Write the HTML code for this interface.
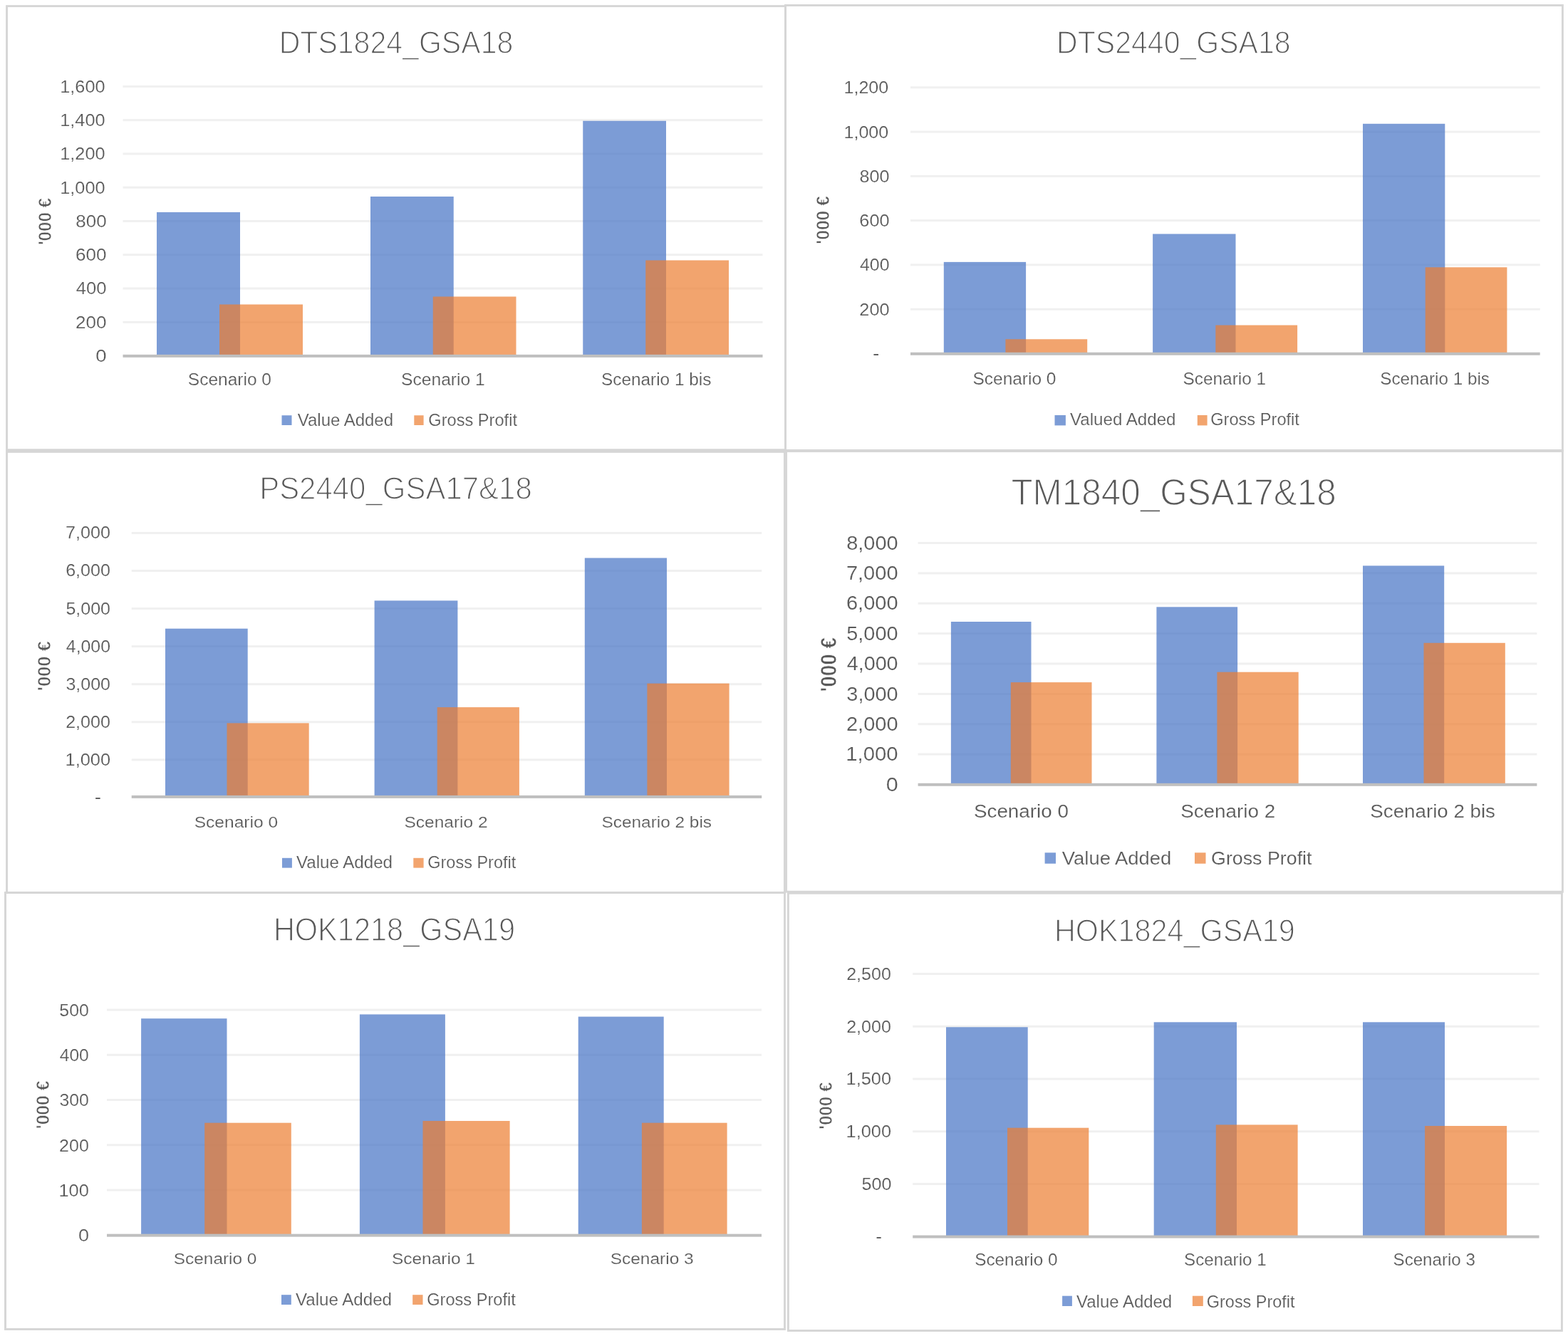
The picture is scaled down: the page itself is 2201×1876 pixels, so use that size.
<!DOCTYPE html>
<html lang="en"><head><meta charset="utf-8"><title>Value Added and Gross Profit by scenario</title>
<style>html,body{margin:0;padding:0;background:#fff;}body{width:2201px;height:1876px;overflow:hidden;}svg{display:block;font-family:"Liberation Sans",sans-serif;}text{white-space:pre;}</style>
</head><body>
<svg width="2201" height="1876" viewBox="0 0 2201 1876">
<rect width="2201" height="1876" fill="#fff"/>
<g>
<rect x="9.55" y="8.6" width="1092.95" height="623.1" fill="none" stroke="#d6d6d6" stroke-width="2.9"/>
<rect x="1102.5" y="7.5" width="1090.9" height="624.9" fill="none" stroke="#d6d6d6" stroke-width="2.9"/>
<rect x="9.55" y="634.4" width="1091.85" height="619" fill="none" stroke="#d6d6d6" stroke-width="2.9"/>
<rect x="1103.6" y="633.6" width="1089.8" height="618.6" fill="none" stroke="#d6d6d6" stroke-width="2.9"/>
<rect x="7.5" y="1253.4" width="1094" height="613.1" fill="none" stroke="#d6d6d6" stroke-width="2.9"/>
<rect x="1106.4" y="1254.2" width="1086" height="614.3" fill="none" stroke="#d6d6d6" stroke-width="2.9"/>
</g>
<g>
<text transform="translate(391.66,74.7) scale(0.9289,1)" font-size="44.22" fill="#595959" stroke="#fff" stroke-width="1.4" stroke-linejoin="round">DTS1824_GSA18</text>
<rect x="172.5" y="450.83" width="898" height="3" fill="#f0f0f0"/>
<rect x="172.5" y="403.55" width="898" height="3" fill="#f0f0f0"/>
<rect x="172.5" y="356.27" width="898" height="3" fill="#f0f0f0"/>
<rect x="172.5" y="309" width="898" height="3" fill="#f0f0f0"/>
<rect x="172.5" y="261.73" width="898" height="3" fill="#f0f0f0"/>
<rect x="172.5" y="214.45" width="898" height="3" fill="#f0f0f0"/>
<rect x="172.5" y="167.17" width="898" height="3" fill="#f0f0f0"/>
<rect x="172.5" y="119.9" width="898" height="3" fill="#f0f0f0"/>
<text transform="translate(134.31,508.04) scale(1.1405,1)" font-size="24.2" fill="#595959" stroke="#fff" stroke-width="0.18" stroke-linejoin="round">0</text>
<text transform="translate(106.11,460.77) scale(1.0770,1)" font-size="24.2" fill="#595959" stroke="#fff" stroke-width="0.18" stroke-linejoin="round">200</text>
<text transform="translate(106.83,413.49) scale(1.0585,1)" font-size="24.2" fill="#595959" stroke="#fff" stroke-width="0.18" stroke-linejoin="round">400</text>
<text transform="translate(106.11,366.21) scale(1.0770,1)" font-size="24.2" fill="#595959" stroke="#fff" stroke-width="0.18" stroke-linejoin="round">600</text>
<text transform="translate(106.31,318.94) scale(1.0719,1)" font-size="24.2" fill="#595959" stroke="#fff" stroke-width="0.18" stroke-linejoin="round">800</text>
<text transform="translate(84.26,271.67) scale(1.0448,1)" font-size="24.2" fill="#595959" stroke="#fff" stroke-width="0.18" stroke-linejoin="round">1,000</text>
<text transform="translate(84.26,224.39) scale(1.0448,1)" font-size="24.2" fill="#595959" stroke="#fff" stroke-width="0.18" stroke-linejoin="round">1,200</text>
<text transform="translate(84.26,177.11) scale(1.0448,1)" font-size="24.2" fill="#595959" stroke="#fff" stroke-width="0.18" stroke-linejoin="round">1,400</text>
<text transform="translate(84.26,129.84) scale(1.0448,1)" font-size="24.2" fill="#595959" stroke="#fff" stroke-width="0.18" stroke-linejoin="round">1,600</text>
<rect x="220" y="298" width="117" height="201.9" fill="#4472C4" fill-opacity="0.7"/>
<rect x="308" y="427.5" width="117" height="72.4" fill="#ED7D31" fill-opacity="0.7"/>
<rect x="520" y="276" width="116.75" height="223.9" fill="#4472C4" fill-opacity="0.7"/>
<rect x="607.75" y="416.5" width="116.75" height="83.4" fill="#ED7D31" fill-opacity="0.7"/>
<rect x="818.25" y="169.75" width="116.75" height="330.15" fill="#4472C4" fill-opacity="0.7"/>
<rect x="906.25" y="365.5" width="116.75" height="134.4" fill="#ED7D31" fill-opacity="0.7"/>
<rect x="172.5" y="497.9" width="898" height="4" fill="#bfbfbf"/>
<text transform="translate(263.81,541.14) scale(1.0525,1)" font-size="23.3" fill="#595959" stroke="#fff" stroke-width="0.18" stroke-linejoin="round">Scenario 0</text>
<text transform="translate(563.1,541.14) scale(1.0566,1)" font-size="23.3" fill="#595959" stroke="#fff" stroke-width="0.18" stroke-linejoin="round">Scenario 1</text>
<text transform="translate(844.01,541.14) scale(1.0460,1)" font-size="23.3" fill="#595959" stroke="#fff" stroke-width="0.18" stroke-linejoin="round">Scenario 1 bis</text>
<rect x="395.5" y="583.25" width="14" height="13.75" fill="#4472C4" fill-opacity="0.7"/>
<text transform="translate(417.79,598.39) scale(0.9949,1)" font-size="24.12" fill="#595959" stroke="#fff" stroke-width="0.18" stroke-linejoin="round">Value Added</text>
<rect x="581.3" y="583.25" width="13.3" height="13.75" fill="#ED7D31" fill-opacity="0.7"/>
<text transform="translate(601.33,598.39) scale(0.9793,1)" font-size="24.12" fill="#595959" stroke="#fff" stroke-width="0.18" stroke-linejoin="round">Gross Profit</text>
<text transform="translate(71.6,344.12) rotate(-90) scale(0.9251,1)" font-size="26.09" fill="#595959" font-weight="bold" stroke="#fff" stroke-width="0.7" stroke-linejoin="round">'000 €</text>
</g>
<g>
<text transform="translate(1483.11,75) scale(0.9283,1)" font-size="44.22" fill="#595959" stroke="#fff" stroke-width="1.4" stroke-linejoin="round">DTS2440_GSA18</text>
<rect x="1278" y="432.72" width="883.7" height="3" fill="#f0f0f0"/>
<rect x="1278" y="370.43" width="883.7" height="3" fill="#f0f0f0"/>
<rect x="1278" y="308.15" width="883.7" height="3" fill="#f0f0f0"/>
<rect x="1278" y="245.87" width="883.7" height="3" fill="#f0f0f0"/>
<rect x="1278" y="183.58" width="883.7" height="3" fill="#f0f0f0"/>
<rect x="1278" y="121.3" width="883.7" height="3" fill="#f0f0f0"/>
<text transform="translate(1225.29,503.87) scale(1.1195,1)" font-size="23.94" fill="#595959">-</text>
<text transform="translate(1206.34,442.66) scale(1.0456,1)" font-size="24.2" fill="#595959" stroke="#fff" stroke-width="0.18" stroke-linejoin="round">200</text>
<text transform="translate(1207.05,380.37) scale(1.0277,1)" font-size="24.2" fill="#595959" stroke="#fff" stroke-width="0.18" stroke-linejoin="round">400</text>
<text transform="translate(1206.34,318.09) scale(1.0456,1)" font-size="24.2" fill="#595959" stroke="#fff" stroke-width="0.18" stroke-linejoin="round">600</text>
<text transform="translate(1206.54,255.81) scale(1.0406,1)" font-size="24.2" fill="#595959" stroke="#fff" stroke-width="0.18" stroke-linejoin="round">800</text>
<text transform="translate(1184.53,193.52) scale(1.0361,1)" font-size="24.2" fill="#595959" stroke="#fff" stroke-width="0.18" stroke-linejoin="round">1,000</text>
<text transform="translate(1184.53,131.24) scale(1.0361,1)" font-size="24.2" fill="#595959" stroke="#fff" stroke-width="0.18" stroke-linejoin="round">1,200</text>
<rect x="1324.8" y="367.9" width="115.3" height="128.9" fill="#4472C4" fill-opacity="0.7"/>
<rect x="1411.4" y="476.3" width="114.8" height="20.5" fill="#ED7D31" fill-opacity="0.7"/>
<rect x="1618.1" y="328.5" width="116.4" height="168.3" fill="#4472C4" fill-opacity="0.7"/>
<rect x="1706.3" y="456.6" width="114.8" height="40.2" fill="#ED7D31" fill-opacity="0.7"/>
<rect x="1913" y="173.8" width="115.3" height="323" fill="#4472C4" fill-opacity="0.7"/>
<rect x="2000.7" y="375.3" width="114.7" height="121.5" fill="#ED7D31" fill-opacity="0.7"/>
<rect x="1278" y="494.8" width="883.7" height="4" fill="#bfbfbf"/>
<text transform="translate(1365.51,539.89) scale(1.0507,1)" font-size="23.3" fill="#595959" stroke="#fff" stroke-width="0.18" stroke-linejoin="round">Scenario 0</text>
<text transform="translate(1660.51,539.89) scale(1.0474,1)" font-size="23.3" fill="#595959" stroke="#fff" stroke-width="0.18" stroke-linejoin="round">Scenario 1</text>
<text transform="translate(1937.32,539.89) scale(1.0412,1)" font-size="23.3" fill="#595959" stroke="#fff" stroke-width="0.18" stroke-linejoin="round">Scenario 1 bis</text>
<rect x="1480.5" y="583" width="15.4" height="14.4" fill="#4472C4" fill-opacity="0.7"/>
<text transform="translate(1501.99,597.39) scale(1.0256,1)" font-size="23.53" fill="#595959" stroke="#fff" stroke-width="0.18" stroke-linejoin="round">Valued Added</text>
<rect x="1680.8" y="583" width="13.8" height="14.4" fill="#ED7D31" fill-opacity="0.7"/>
<text transform="translate(1699.13,597.39) scale(1.0051,1)" font-size="23.53" fill="#595959" stroke="#fff" stroke-width="0.18" stroke-linejoin="round">Gross Profit</text>
<text transform="translate(1163.85,342.64) rotate(-90) scale(0.9430,1)" font-size="26.09" fill="#595959" font-weight="bold" stroke="#fff" stroke-width="0.7" stroke-linejoin="round">'000 €</text>
</g>
<g>
<text transform="translate(364.14,701.4) scale(0.9428,1)" font-size="44.51" fill="#595959" stroke="#fff" stroke-width="1.4" stroke-linejoin="round">PS2440_GSA17&amp;18</text>
<rect x="184.7" y="1065.41" width="884.5" height="3" fill="#f0f0f0"/>
<rect x="184.7" y="1012.33" width="884.5" height="3" fill="#f0f0f0"/>
<rect x="184.7" y="959.24" width="884.5" height="3" fill="#f0f0f0"/>
<rect x="184.7" y="906.16" width="884.5" height="3" fill="#f0f0f0"/>
<rect x="184.7" y="853.07" width="884.5" height="3" fill="#f0f0f0"/>
<rect x="184.7" y="799.99" width="884.5" height="3" fill="#f0f0f0"/>
<rect x="184.7" y="746.9" width="884.5" height="3" fill="#f0f0f0"/>
<text transform="translate(133.11,1126.87) scale(1.1023,1)" font-size="23.94" fill="#595959">-</text>
<text transform="translate(91.51,1074.85) scale(1.0491,1)" font-size="24.2" fill="#595959" stroke="#fff" stroke-width="0.18" stroke-linejoin="round">1,000</text>
<text transform="translate(92.15,1021.77) scale(1.0382,1)" font-size="24.2" fill="#595959" stroke="#fff" stroke-width="0.18" stroke-linejoin="round">2,000</text>
<text transform="translate(92.47,968.68) scale(1.0329,1)" font-size="24.2" fill="#595959" stroke="#fff" stroke-width="0.18" stroke-linejoin="round">3,000</text>
<text transform="translate(92.85,915.6) scale(1.0266,1)" font-size="24.2" fill="#595959" stroke="#fff" stroke-width="0.18" stroke-linejoin="round">4,000</text>
<text transform="translate(92.41,862.51) scale(1.0340,1)" font-size="24.2" fill="#595959" stroke="#fff" stroke-width="0.18" stroke-linejoin="round">5,000</text>
<text transform="translate(92.15,809.43) scale(1.0382,1)" font-size="24.2" fill="#595959" stroke="#fff" stroke-width="0.18" stroke-linejoin="round">6,000</text>
<text transform="translate(92.09,756.34) scale(1.0393,1)" font-size="24.2" fill="#595959" stroke="#fff" stroke-width="0.18" stroke-linejoin="round">7,000</text>
<rect x="232" y="882.7" width="115.7" height="236.2" fill="#4472C4" fill-opacity="0.7"/>
<rect x="318.5" y="1015.4" width="115.2" height="103.5" fill="#ED7D31" fill-opacity="0.7"/>
<rect x="525.6" y="843.4" width="116.8" height="275.5" fill="#4472C4" fill-opacity="0.7"/>
<rect x="613.7" y="993.1" width="115.2" height="125.8" fill="#ED7D31" fill-opacity="0.7"/>
<rect x="820.8" y="783.5" width="115.2" height="335.4" fill="#4472C4" fill-opacity="0.7"/>
<rect x="908.4" y="959.7" width="115.2" height="159.2" fill="#ED7D31" fill-opacity="0.7"/>
<rect x="184.7" y="1116.9" width="884.5" height="4" fill="#bfbfbf"/>
<text transform="translate(272.7,1162.19) scale(1.0769,1)" font-size="22.81" fill="#595959" stroke="#fff" stroke-width="0.18" stroke-linejoin="round">Scenario 0</text>
<text transform="translate(567.41,1162.19) scale(1.0751,1)" font-size="22.81" fill="#595959" stroke="#fff" stroke-width="0.18" stroke-linejoin="round">Scenario 2</text>
<text transform="translate(844.51,1162.19) scale(1.0691,1)" font-size="22.81" fill="#595959" stroke="#fff" stroke-width="0.18" stroke-linejoin="round">Scenario 2 bis</text>
<rect x="396" y="1204.8" width="13.9" height="13.8" fill="#4472C4" fill-opacity="0.7"/>
<text transform="translate(415.99,1218.69) scale(1.0131,1)" font-size="23.83" fill="#595959" stroke="#fff" stroke-width="0.18" stroke-linejoin="round">Value Added</text>
<rect x="580.3" y="1204.8" width="14.3" height="13.8" fill="#ED7D31" fill-opacity="0.7"/>
<text transform="translate(600.23,1218.69) scale(0.9872,1)" font-size="23.83" fill="#595959" stroke="#fff" stroke-width="0.18" stroke-linejoin="round">Gross Profit</text>
<text transform="translate(70.85,970.19) rotate(-90) scale(0.9789,1)" font-size="26.09" fill="#595959" font-weight="bold" stroke="#fff" stroke-width="0.7" stroke-linejoin="round">'000 €</text>
</g>
<g>
<text transform="translate(1419.39,709.4) scale(0.9501,1)" font-size="52.07" fill="#595959" stroke="#fff" stroke-width="1.4" stroke-linejoin="round">TM1840_GSA17&amp;18</text>
<rect x="1288.6" y="1057.62" width="868.8" height="3" fill="#f0f0f0"/>
<rect x="1288.6" y="1015.25" width="868.8" height="3" fill="#f0f0f0"/>
<rect x="1288.6" y="972.88" width="868.8" height="3" fill="#f0f0f0"/>
<rect x="1288.6" y="930.5" width="868.8" height="3" fill="#f0f0f0"/>
<rect x="1288.6" y="888.12" width="868.8" height="3" fill="#f0f0f0"/>
<rect x="1288.6" y="845.75" width="868.8" height="3" fill="#f0f0f0"/>
<rect x="1288.6" y="803.38" width="868.8" height="3" fill="#f0f0f0"/>
<rect x="1288.6" y="761" width="868.8" height="3" fill="#f0f0f0"/>
<text transform="translate(1243.69,1110.69) scale(1.1104,1)" font-size="27.5" fill="#595959" stroke="#fff" stroke-width="0.18" stroke-linejoin="round">0</text>
<text transform="translate(1187.21,1068.31) scale(1.0663,1)" font-size="27.5" fill="#595959" stroke="#fff" stroke-width="0.18" stroke-linejoin="round">1,000</text>
<text transform="translate(1187.96,1025.94) scale(1.0553,1)" font-size="27.5" fill="#595959" stroke="#fff" stroke-width="0.18" stroke-linejoin="round">2,000</text>
<text transform="translate(1188.33,983.57) scale(1.0499,1)" font-size="27.5" fill="#595959" stroke="#fff" stroke-width="0.18" stroke-linejoin="round">3,000</text>
<text transform="translate(1188.76,941.19) scale(1.0434,1)" font-size="27.5" fill="#595959" stroke="#fff" stroke-width="0.18" stroke-linejoin="round">4,000</text>
<text transform="translate(1188.25,898.82) scale(1.0509,1)" font-size="27.5" fill="#595959" stroke="#fff" stroke-width="0.18" stroke-linejoin="round">5,000</text>
<text transform="translate(1187.96,856.44) scale(1.0553,1)" font-size="27.5" fill="#595959" stroke="#fff" stroke-width="0.18" stroke-linejoin="round">6,000</text>
<text transform="translate(1187.88,814.07) scale(1.0564,1)" font-size="27.5" fill="#595959" stroke="#fff" stroke-width="0.18" stroke-linejoin="round">7,000</text>
<text transform="translate(1188.18,771.69) scale(1.0520,1)" font-size="27.5" fill="#595959" stroke="#fff" stroke-width="0.18" stroke-linejoin="round">8,000</text>
<rect x="1334.9" y="873" width="112.6" height="228.8" fill="#4472C4" fill-opacity="0.7"/>
<rect x="1418.8" y="958.1" width="113.7" height="143.7" fill="#ED7D31" fill-opacity="0.7"/>
<rect x="1623.4" y="852.3" width="113.7" height="249.5" fill="#4472C4" fill-opacity="0.7"/>
<rect x="1708.4" y="943.7" width="114.3" height="158.1" fill="#ED7D31" fill-opacity="0.7"/>
<rect x="1913" y="794.4" width="114.2" height="307.4" fill="#4472C4" fill-opacity="0.7"/>
<rect x="1998.5" y="902.8" width="114.3" height="199" fill="#ED7D31" fill-opacity="0.7"/>
<rect x="1288.6" y="1099.8" width="868.8" height="4" fill="#bfbfbf"/>
<text transform="translate(1366.96,1148.14) scale(1.0494,1)" font-size="26.51" fill="#595959" stroke="#fff" stroke-width="0.18" stroke-linejoin="round">Scenario 0</text>
<text transform="translate(1657.16,1148.14) scale(1.0498,1)" font-size="26.51" fill="#595959" stroke="#fff" stroke-width="0.18" stroke-linejoin="round">Scenario 2</text>
<text transform="translate(1923.36,1148.14) scale(1.0452,1)" font-size="26.51" fill="#595959" stroke="#fff" stroke-width="0.18" stroke-linejoin="round">Scenario 2 bis</text>
<rect x="1466.6" y="1197.3" width="15.4" height="15.4" fill="#4472C4" fill-opacity="0.7"/>
<text transform="translate(1490.87,1214.09) scale(1.0366,1)" font-size="26.44" fill="#595959" stroke="#fff" stroke-width="0.18" stroke-linejoin="round">Value Added</text>
<rect x="1677" y="1197.3" width="15.5" height="15.4" fill="#ED7D31" fill-opacity="0.7"/>
<text transform="translate(1700.07,1214.09) scale(1.0134,1)" font-size="26.44" fill="#595959" stroke="#fff" stroke-width="0.18" stroke-linejoin="round">Gross Profit</text>
<text transform="translate(1173.55,971.42) rotate(-90) scale(0.8981,1)" font-size="31.11" fill="#595959" font-weight="bold" stroke="#fff" stroke-width="0.7" stroke-linejoin="round">'000 €</text>
</g>
<g>
<text transform="translate(383.88,1320.5) scale(0.9001,1)" font-size="46.11" fill="#595959" stroke="#fff" stroke-width="1.4" stroke-linejoin="round">HOK1218_GSA19</text>
<rect x="150" y="1669.62" width="919" height="3" fill="#f0f0f0"/>
<rect x="150" y="1606.34" width="919" height="3" fill="#f0f0f0"/>
<rect x="150" y="1543.06" width="919" height="3" fill="#f0f0f0"/>
<rect x="150" y="1479.78" width="919" height="3" fill="#f0f0f0"/>
<rect x="150" y="1416.5" width="919" height="3" fill="#f0f0f0"/>
<text transform="translate(110.08,1743.14) scale(1.1189,1)" font-size="24.2" fill="#595959" stroke="#fff" stroke-width="0.18" stroke-linejoin="round">0</text>
<text transform="translate(82.4,1679.86) scale(1.0504,1)" font-size="24.2" fill="#595959" stroke="#fff" stroke-width="0.18" stroke-linejoin="round">100</text>
<text transform="translate(83.06,1616.58) scale(1.0338,1)" font-size="24.2" fill="#595959" stroke="#fff" stroke-width="0.18" stroke-linejoin="round">200</text>
<text transform="translate(83.38,1553.3) scale(1.0257,1)" font-size="24.2" fill="#595959" stroke="#fff" stroke-width="0.18" stroke-linejoin="round">300</text>
<text transform="translate(83.76,1490.02) scale(1.0161,1)" font-size="24.2" fill="#595959" stroke="#fff" stroke-width="0.18" stroke-linejoin="round">400</text>
<text transform="translate(83.32,1426.74) scale(1.0273,1)" font-size="24.2" fill="#595959" stroke="#fff" stroke-width="0.18" stroke-linejoin="round">500</text>
<rect x="198.1" y="1430.2" width="120.4" height="304.5" fill="#4472C4" fill-opacity="0.7"/>
<rect x="287.2" y="1576.7" width="121.6" height="158" fill="#ED7D31" fill-opacity="0.7"/>
<rect x="504.9" y="1424.4" width="120" height="310.3" fill="#4472C4" fill-opacity="0.7"/>
<rect x="593.5" y="1574" width="122.1" height="160.7" fill="#ED7D31" fill-opacity="0.7"/>
<rect x="811.7" y="1427.6" width="120" height="307.1" fill="#4472C4" fill-opacity="0.7"/>
<rect x="900.9" y="1576.7" width="119.7" height="158" fill="#ED7D31" fill-opacity="0.7"/>
<rect x="150" y="1732.7" width="919" height="4" fill="#bfbfbf"/>
<text transform="translate(243.81,1775.14) scale(1.0728,1)" font-size="22.74" fill="#595959" stroke="#fff" stroke-width="0.18" stroke-linejoin="round">Scenario 0</text>
<text transform="translate(549.91,1775.14) scale(1.0769,1)" font-size="22.74" fill="#595959" stroke="#fff" stroke-width="0.18" stroke-linejoin="round">Scenario 1</text>
<text transform="translate(856.71,1775.14) scale(1.0767,1)" font-size="22.74" fill="#595959" stroke="#fff" stroke-width="0.18" stroke-linejoin="round">Scenario 3</text>
<rect x="395" y="1818.2" width="13.8" height="13.8" fill="#4472C4" fill-opacity="0.7"/>
<text transform="translate(414.99,1833.09) scale(1.0001,1)" font-size="24.12" fill="#595959" stroke="#fff" stroke-width="0.18" stroke-linejoin="round">Value Added</text>
<rect x="579.2" y="1818.2" width="14.3" height="13.8" fill="#ED7D31" fill-opacity="0.7"/>
<text transform="translate(599.13,1833.09) scale(0.9801,1)" font-size="24.12" fill="#595959" stroke="#fff" stroke-width="0.18" stroke-linejoin="round">Gross Profit</text>
<text transform="translate(69.35,1585.25) rotate(-90) scale(0.9473,1)" font-size="26.09" fill="#595959" font-weight="bold" stroke="#fff" stroke-width="0.7" stroke-linejoin="round">'000 €</text>
</g>
<g>
<text transform="translate(1479.89,1321.8) scale(0.9174,1)" font-size="45.09" fill="#595959" stroke="#fff" stroke-width="1.4" stroke-linejoin="round">HOK1824_GSA19</text>
<rect x="1281.2" y="1661.04" width="879.3" height="3" fill="#f0f0f0"/>
<rect x="1281.2" y="1587.28" width="879.3" height="3" fill="#f0f0f0"/>
<rect x="1281.2" y="1513.52" width="879.3" height="3" fill="#f0f0f0"/>
<rect x="1281.2" y="1439.76" width="879.3" height="3" fill="#f0f0f0"/>
<rect x="1281.2" y="1366" width="879.3" height="3" fill="#f0f0f0"/>
<text transform="translate(1229.59,1743.67) scale(1.0334,1)" font-size="23.94" fill="#595959">-</text>
<text transform="translate(1209.6,1670.98) scale(1.0390,1)" font-size="24.2" fill="#595959" stroke="#fff" stroke-width="0.18" stroke-linejoin="round">500</text>
<text transform="translate(1187.51,1597.22) scale(1.0491,1)" font-size="24.2" fill="#595959" stroke="#fff" stroke-width="0.18" stroke-linejoin="round">1,000</text>
<text transform="translate(1187.51,1523.46) scale(1.0491,1)" font-size="24.2" fill="#595959" stroke="#fff" stroke-width="0.18" stroke-linejoin="round">1,500</text>
<text transform="translate(1188.15,1449.7) scale(1.0382,1)" font-size="24.2" fill="#595959" stroke="#fff" stroke-width="0.18" stroke-linejoin="round">2,000</text>
<text transform="translate(1188.15,1375.94) scale(1.0382,1)" font-size="24.2" fill="#595959" stroke="#fff" stroke-width="0.18" stroke-linejoin="round">2,500</text>
<rect x="1328" y="1442.3" width="114.7" height="294.3" fill="#4472C4" fill-opacity="0.7"/>
<rect x="1414" y="1583.7" width="114.3" height="152.9" fill="#ED7D31" fill-opacity="0.7"/>
<rect x="1619.7" y="1435.3" width="116.3" height="301.3" fill="#4472C4" fill-opacity="0.7"/>
<rect x="1706.8" y="1579.4" width="114.8" height="157.2" fill="#ED7D31" fill-opacity="0.7"/>
<rect x="1913" y="1435.3" width="115" height="301.3" fill="#4472C4" fill-opacity="0.7"/>
<rect x="2000.1" y="1581" width="115" height="155.6" fill="#ED7D31" fill-opacity="0.7"/>
<rect x="1281.2" y="1734.6" width="879.3" height="4" fill="#bfbfbf"/>
<text transform="translate(1368.21,1776.69) scale(1.0207,1)" font-size="23.85" fill="#595959" stroke="#fff" stroke-width="0.18" stroke-linejoin="round">Scenario 0</text>
<text transform="translate(1662.12,1776.69) scale(1.0131,1)" font-size="23.85" fill="#595959" stroke="#fff" stroke-width="0.18" stroke-linejoin="round">Scenario 1</text>
<text transform="translate(1955.57,1776.69) scale(1.0111,1)" font-size="23.85" fill="#595959" stroke="#fff" stroke-width="0.18" stroke-linejoin="round">Scenario 3</text>
<rect x="1491.1" y="1819.7" width="13.8" height="14.3" fill="#4472C4" fill-opacity="0.7"/>
<text transform="translate(1511.09,1835.59) scale(0.9934,1)" font-size="24.12" fill="#595959" stroke="#fff" stroke-width="0.18" stroke-linejoin="round">Value Added</text>
<rect x="1673.9" y="1819.7" width="14.9" height="14.3" fill="#ED7D31" fill-opacity="0.7"/>
<text transform="translate(1693.84,1835.59) scale(0.9721,1)" font-size="24.12" fill="#595959" stroke="#fff" stroke-width="0.18" stroke-linejoin="round">Gross Profit</text>
<text transform="translate(1167.85,1585.82) rotate(-90) scale(0.9258,1)" font-size="26.09" fill="#595959" font-weight="bold" stroke="#fff" stroke-width="0.7" stroke-linejoin="round">'000 €</text>
</g>
</svg></body></html>
